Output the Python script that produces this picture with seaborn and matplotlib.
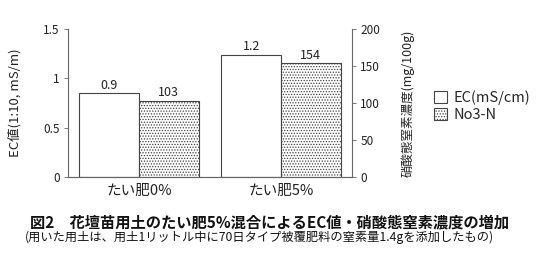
import numpy as np
import pandas as pd
import matplotlib
matplotlib.use("Agg")
import matplotlib.pyplot as plt
import seaborn as sns
from matplotlib.patches import Patch

cats = ['たい肥0%', 'たい肥5%']
series = ['EC(mS/cm)', 'No3-N']
ec = [0.85, 1.24]
ec_labels = ['0.9', '1.2']
no3 = [103, 154]
no3_labels = ['103', '154']
left_ticks = [0, 0.5, 1, 1.5]
left_ticklabels = ['0', '0.5', '1', '1.5']
right_ticks = [0, 50, 100, 150, 200]

sns.set_style('ticks')
plt.rcParams['font.family'] = ['Noto Sans CJK JP', 'DejaVu Sans']
plt.rcParams['hatch.linewidth'] = 0.6
plt.rcParams['hatch.color'] = '#555555'

EDGE = '#444444'

fig = plt.figure(figsize=(5.37, 2.54), dpi=100)
ax1 = fig.add_axes([68/537, 1-177/254, (352-68)/537, (177-29)/254])
ax2 = ax1.twinx()

df1 = pd.DataFrame({'cat': cats * 2,
                    'series': [series[0]] * 2 + [series[1]] * 2,
                    'val': ec + [np.nan] * 2})
df2 = pd.DataFrame({'cat': cats * 2,
                    'series': [series[0]] * 2 + [series[1]] * 2,
                    'val': [np.nan] * 2 + no3})
pal = {series[0]: 'white', series[1]: 'white'}

sns.barplot(data=df1, x='cat', y='val', hue='series', hue_order=series, order=cats,
            palette=pal, width=0.84, errorbar=None, legend=False, ax=ax1,
            edgecolor=EDGE, linewidth=0.8)
sns.barplot(data=df2, x='cat', y='val', hue='series', hue_order=series, order=cats,
            palette=pal, width=0.84, errorbar=None, legend=False, ax=ax2,
            edgecolor=EDGE, linewidth=0.8, hatch='......')

ax1.bar_label(ax1.containers[0], labels=ec_labels, padding=1, fontsize=9, color='#222222')
ax2.bar_label(ax2.containers[-1], labels=no3_labels, padding=1, fontsize=9, color='#222222')

ax1.set_ylim(0, 1.5)
ax2.set_ylim(0, 200)
ax1.set_xlim(-0.5, 1.5)
ax1.set_yticks(left_ticks)
ax1.set_yticklabels(left_ticklabels)
ax2.set_yticks(right_ticks)

for ax in (ax1, ax2):
    ax.spines['top'].set_visible(False)
    for s in ax.spines.values():
        s.set_color('#666666')
        s.set_linewidth(0.8)
    ax.tick_params(axis='y', length=3, width=0.6, color='#666666', labelsize=8.5,
                   labelcolor='#222222', pad=3)
    ax.set_xlabel('')
ax1.spines['right'].set_visible(False)
ax2.spines['left'].set_visible(False)
ax1.tick_params(axis='x', length=0, labelsize=10.5, labelcolor='#222222', pad=5)

ax1.set_ylabel('EC値(1:10, mS/m)', fontsize=9.5, color='#222222')
ax1.yaxis.set_label_coords(-0.162, 0.5)
ax2.set_ylabel('硝酸態窒素濃度(mg/100g)', fontsize=9, color='#222222', rotation=90)
ax2.yaxis.set_label_coords(1.172, 0.5)

handles = [Patch(facecolor='white', edgecolor=EDGE, linewidth=0.8),
           Patch(facecolor='white', edgecolor=EDGE, linewidth=0.8, hatch='......')]
fig.legend(handles, series, loc='center left', bbox_to_anchor=(427/537, 1-106/254),
           frameon=False, fontsize=10.5, handlelength=0.9, handleheight=0.9,
           handletextpad=0.4, labelspacing=0.2, borderpad=0)

fig.text(270/537, 1-222/254, '図2　花壇苗用土のたい肥5%混合によるEC値・硝酸態窒素濃度の増加',
         ha='center', va='center', fontsize=11, fontweight='bold', color='#111111')
fig.text(259/537, 1-237/254, '(用いた用土は、用土1リットル中に70日タイプ被覆肥料の窒素量1.4gを添加したもの)',
         ha='center', va='center', fontsize=8.8, color='#111111')

fig.savefig('out.png', dpi=100)
